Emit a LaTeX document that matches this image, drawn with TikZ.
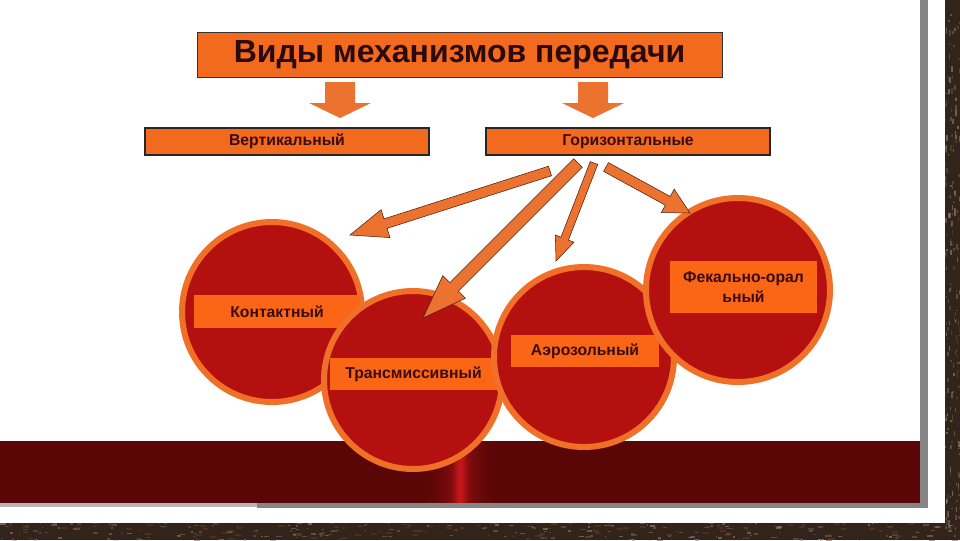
\documentclass[tikz,border=0pt]{standalone}
\usepackage{fontspec}
\setmainfont{Liberation Sans}
\usetikzlibrary{calc}
\definecolor{orng}{HTML}{F26A1E}
\definecolor{labc}{HTML}{FA6616}
\definecolor{ringc}{HTML}{F07028}
\definecolor{circred}{HTML}{B51010}
\definecolor{bandc}{HTML}{5A0606}
\definecolor{glowc}{HTML}{C4161A}
\definecolor{txtc}{HTML}{2A0A0A}
\definecolor{labtxt}{HTML}{3A0C10}
\definecolor{arrc}{HTML}{EC7230}
\definecolor{arrline}{HTML}{4A2010}
\definecolor{brickc}{HTML}{33241B}
\definecolor{brickl}{HTML}{9A8A78}
\definecolor{brickr}{HTML}{6A3A24}
\definecolor{shadowc}{HTML}{858585}
\newcommand\slantarrow[5]{%
  \coordinate (hb) at ($(#2)!#5!(#1)$);
  \draw[slarrow] ($(#1)!#3!90:(#2)$) -- ($(hb)!#3!90:(#2)$) -- ($(hb)!#4!90:(#2)$) -- (#2)
    -- ($(hb)!#4!-90:(#2)$) -- ($(hb)!#3!-90:(#2)$) -- ($(#1)!#3!-90:(#2)$) -- cycle;
}
\begin{document}
\begin{tikzpicture}[x=0.75pt,y=-0.75pt,
  titlebox/.style={fill=orng,draw=black!80,line width=0.6pt,inner sep=0pt,text=txtc,font=\bfseries\fontsize{24}{28}\selectfont},
  subbox/.style={fill=orng,draw=black!85,line width=0.8pt,inner sep=0pt,text=labtxt,font=\bfseries\fontsize{11.8}{14}\selectfont,minimum width=213pt,minimum height=20.25pt},
  bigcirc/.style={circle,fill=circred,draw=ringc,line width=4.5pt,inner sep=0pt},
  lab/.style={fill=labc,inner sep=0pt,text=labtxt,font=\bfseries\fontsize{11.8}{15}\selectfont,align=center},
  downarr/.style={fill=arrc,draw=none},
  slarrow/.style={fill=arrc,draw=arrline,line width=0.4pt,line join=miter}]
\useasboundingbox (0,0) rectangle (960,540);
% background (brick texture)
\fill[brickc] (0,0) rectangle (960,540);
\pgfmathsetseed{11}
\foreach \k in {1,...,260}{
  \pgfmathsetmacro\xx{rnd*960}
  \pgfmathsetmacro\yy{522+rnd*18}
  \pgfmathsetmacro\ww{1+rnd*5}
  \pgfmathsetmacro\oo{0.15+rnd*0.45}
  \fill[brickl,opacity=\oo] (\xx,\yy) rectangle ++(\ww,1.5);
}
\foreach \k in {1,...,200}{
  \pgfmathsetmacro\xx{944+rnd*16}
  \pgfmathsetmacro\yy{rnd*540}
  \pgfmathsetmacro\hh{1+rnd*5}
  \pgfmathsetmacro\oo{0.15+rnd*0.45}
  \fill[brickl,opacity=\oo] (\xx,\yy) rectangle ++(1.5,\hh);
}
\foreach \k in {1,...,60}{
  \pgfmathsetmacro\xx{rnd*960}
  \pgfmathsetmacro\yy{522+rnd*18}
  \fill[brickr,opacity=0.5] (\xx,\yy) rectangle ++(6,2);
}
\fill[white] (0,0) rectangle (945,523);
% shadow
\fill[shadowc] (920,0) rectangle (928,508);
\fill[shadowc] (257,503) rectangle (928,508);
\fill[shadowc!60] (0,503) rectangle (257,507);
% band with glow
\fill[bandc] (0,441) rectangle (920,503);
\foreach \i in {-45,...,45}{
  \pgfmathsetmacro\p{100*(0.6*exp(-(\i/6)^2)+0.4*exp(-(\i/20)^2))}
  \fill[glowc!\p!bandc] (461+\i-0.6,441) rectangle (461+\i+0.6,503);
}
% title and sub boxes
\node[titlebox,minimum width=393.75pt,minimum height=33.75pt] (title) at (459.5,54.5) {Виды механизмов передачи};
\node[subbox] (vert) at (287,141.5) {Вертикальный};
\node[subbox] (hor) at (628,141.5) {Горизонтальные};
% down arrows
\fill[downarr] (325,82) -- (355,82) -- (355,103) -- (371,103) -- (340,118) -- (309,103) -- (325,103) -- cycle;
\fill[downarr] (578,82) -- (608,82) -- (608,103) -- (624,103) -- (593,118) -- (562,103) -- (578,103) -- cycle;
% circles
\node[bigcirc,minimum size=135pt] (ck) at (272,312) {};
\node[lab,minimum width=124.5pt,minimum height=24.75pt] (lk) at (277,311.5) {Контактный};
\node[bigcirc,minimum size=133.5pt] (ct) at (413,380) {};
\node[lab,minimum width=125.25pt,minimum height=24pt] (lt) at (413.5,374) {Трансмиссивный};
\node[bigcirc,minimum size=135pt] (ca) at (584,357) {};
\node[lab,minimum width=111pt,minimum height=24pt] (la) at (585,351) {Аэрозольный};
\node[bigcirc,minimum size=138pt] (cf) at (738,290) {};
\node[lab,minimum width=110.25pt,minimum height=39pt] (lf) at (743.5,287) {Фекально-орал\\ьный};
% slanted arrows
\coordinate (t1) at (550,171); \coordinate (h1) at (350,235);
\coordinate (t2) at (578,163); \coordinate (h2) at (423,318);
\coordinate (t3) at (594,163); \coordinate (h3) at (556,261);
\coordinate (t4) at (606,167); \coordinate (h4) at (690,213);
\slantarrow{t1}{h1}{3.75pt}{11pt}{28pt}
\slantarrow{t2}{h2}{4.5pt}{12pt}{33pt}
\slantarrow{t3}{h3}{3pt}{7.5pt}{18pt}
\slantarrow{t4}{h4}{3.75pt}{10pt}{19pt}
\end{tikzpicture}
\end{document}
